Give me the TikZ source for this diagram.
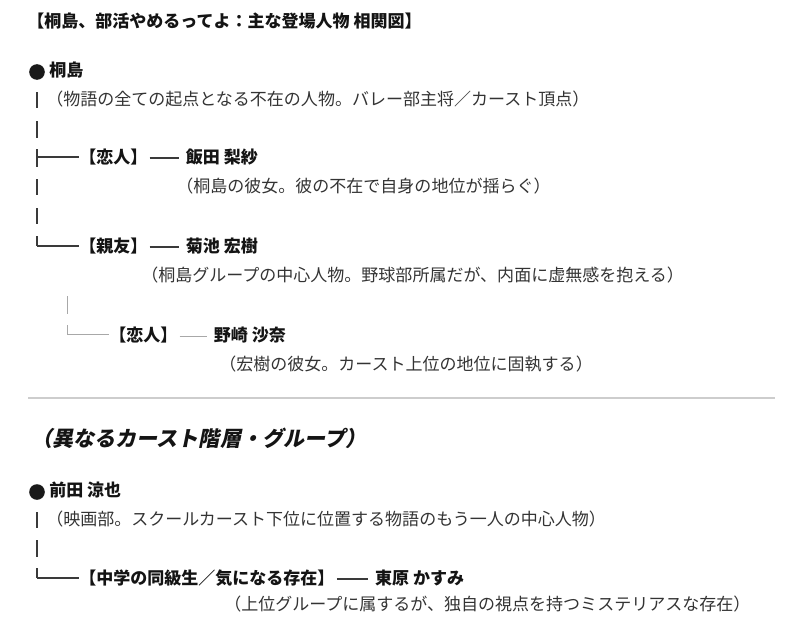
\documentclass[tikz,border=0pt]{standalone}
\usepackage{fontspec}
\setmainfont{Noto Sans CJK JP}
\newfontfamily\slantfont{Noto Sans CJK JP}[FakeSlant=0.2]
\usepackage{xcolor}
\usetikzlibrary{positioning}
\definecolor{notegray}{HTML}{333333}
\definecolor{linegray}{HTML}{3A3A3A}
\definecolor{subgray}{HTML}{A8A8A8}
\definecolor{rulegray}{HTML}{CDCDCD}
\tikzset{
  txt/.style={anchor=west,inner sep=0pt,text height=0.88em,text depth=0.12em,
    font=\fontsize{12.1}{14}\selectfont},
  person/.style={txt,font=\fontsize{12.1}{14}\selectfont\bfseries,text=black!92},
  note/.style={txt,text=notegray},
  dot/.style={circle,fill=black!90,inner sep=0pt,minimum size=0.39cm},
  trunk/.style={line width=1.4pt,linegray},
  twig/.style={line width=0.8pt,linegray},
  subtrunk/.style={line width=0.7pt,subgray},
  link/.style={twig,shorten <=1.5pt,shorten >=4.5pt},
}

\begin{document}
\begin{tikzpicture}[x=0.025cm,y=-0.025cm]
            \useasboundingbox (0,0) rectangle (800,637);
            % Title
            \node[person] (title) at (27,22) {【桐島、部活やめるってよ：主な登場人物 相関図】};
            % Kirishima
            \node[dot] (dot1) at (37,72) {};
            \node[person] (kiri) at (49,71) {桐島};
            \node[note] (kirinote) at (46,100) {（物語の全ての起点となる不在の人物。バレー部主将／カースト頂点）};
            \draw[trunk] (37,92) -- (37,108);
            \draw[trunk] (37,121) -- (37,138);
            % Iida
            \coordinate (j1) at (37,157);
            \draw[trunk] (37,149) -- (37,167);
            \node[person] (rel1) at (79,158) {【恋人】};
            \node[person,right=0.95cm of rel1] (iida) {飯田 梨紗};
            \draw[twig] (j1) -- (j1 -| rel1.west);
            \draw[link] (rel1) -- (iida);
            \node[note] (iidanote) at (176,187) {（桐島の彼女。彼の不在で自身の地位が揺らぐ）};
            \draw[trunk] (37,179) -- (37,195);
            \draw[trunk] (37,208) -- (37,224);
            % Kikuchi
            \coordinate (j2) at (37,246);
            \draw[trunk] (37,236) -- (j2);
            \node[person] (rel2) at (79,247) {【親友】};
            \node[person,right=0.95cm of rel2] (kiku) {菊池 宏樹};
            \draw[twig] (j2) -- (j2 -| rel2.west);
            \draw[link] (rel2) -- (kiku);
            \node[note] (kikunote) at (141,276) {（桐島グループの中心人物。野球部所属だが、内面に虚無感を抱える）};
            % Nozaki
            \draw[subtrunk] (67,296) -- (67,314);
            \coordinate (j3) at (67,334);
            \draw[subtrunk] (67,325) -- (j3);
            \node[person] (rel3) at (109,336) {【恋人】};
            \node[person,right=0.9cm of rel3] (noza) {野崎 沙奈};
            \draw[subtrunk] (j3) -- (j3 -| rel3.west);
            \draw[link,subgray,line width=0.6pt] (rel3) -- (noza);
            \node[note] (nozanote) at (219,365) {（宏樹の彼女。カースト上位の地位に固執する）};
            % separator
            \draw[rulegray,line width=1.2pt] (28,398) -- (775,398);
            \node[txt,font=\slantfont\bfseries\fontsize{15}{18}\selectfont,text=black!92] (caste) at (31,441) {（異なるカースト階層・グループ）};
            % Maeda
            \node[dot] (dot2) at (37,492) {};
            \node[person] (maeda) at (49,491) {前田 涼也};
            \node[note] (maedanote) at (46,520) {（映画部。スクールカースト下位に位置する物語のもう一人の中心人物）};
            \draw[trunk] (37,512) -- (37,528);
            \draw[trunk] (37,540) -- (37,557);
            % Higashihara
            \coordinate (j4) at (37,578);
            \draw[trunk] (37,568) -- (j4);
            \node[person] (rel4) at (79,579) {【中学の同級生／気になる存在】};
            \node[person,right=1.0cm of rel4] (higa) {東原 かすみ};
            \draw[twig] (j4) -- (j4 -| rel4.west);
            \draw[link] (rel4) -- (higa);
            \node[note] (higanote) at (224,605) {（上位グループに属するが、独自の視点を持つミステリアスな存在）};
\end{tikzpicture}
\end{document}
